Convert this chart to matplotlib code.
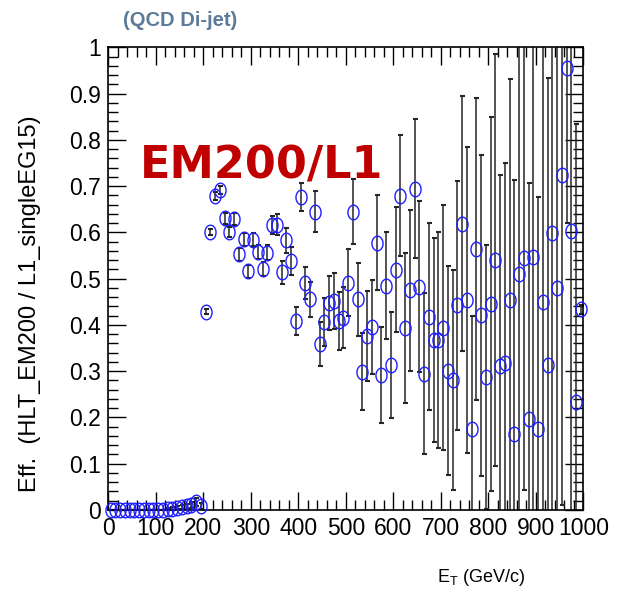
import numpy as np
import matplotlib
matplotlib.use("Agg")
import matplotlib.pyplot as plt
from matplotlib.ticker import MultipleLocator

plt.rcParams['font.family'] = ['Liberation Sans', 'DejaVu Sans']

# ---- data: HLT_EM200 / L1_singleEG15 efficiency per 10 GeV bin ----
et_bins = np.arange(5, 1000, 10)

eff = [
    0.0, 0.0, 0.0, 0.0, 0.0, 0.0, 0.0, 0.0, 0.0, 0.0,
    0.0, 0.0, 0.002, 0.003, 0.005, 0.006, 0.008, 0.011, 0.017, 0.009,
    0.429, 0.601, 0.679, 0.692, 0.630, 0.600, 0.629, 0.553, 0.585, 0.516,
    0.584, 0.558, 0.521, 0.556, 0.616, 0.617, 0.514, 0.583, 0.538, 0.408,
    0.676, 0.491, 0.455, 0.645, 0.359, 0.407, 0.447, 0.452, 0.408, 0.416,
    0.491, 0.645, 0.455, 0.299, 0.376, 0.396, 0.578, 0.292, 0.485, 0.313,
    0.519, 0.679, 0.393, 0.475, 0.694, 0.483, 0.295, 0.418, 0.367, 0.367,
    0.394, 0.301, 0.281, 0.442, 0.619, 0.454, 0.174, 0.564, 0.421, 0.288,
    0.445, 0.540, 0.311, 0.318, 0.454, 0.164, 0.510, 0.544, 0.197, 0.547,
    0.174, 0.449, 0.313, 0.598, 0.479, 0.724, 0.955, 0.604, 0.234, 0.434,
]

eff_err = [
    0.0, 0.0, 0.0, 0.0, 0.0, 0.0, 0.0, 0.0, 0.0, 0.0,
    0.0, 0.0, 0.002, 0.003, 0.003, 0.004, 0.005, 0.006, 0.008, 0.006,
    0.005, 0.007, 0.009, 0.009, 0.011, 0.011, 0.012, 0.014, 0.014, 0.014,
    0.014, 0.015, 0.016, 0.016, 0.019, 0.022, 0.025, 0.027, 0.030, 0.030,
    0.030, 0.034, 0.038, 0.044, 0.047, 0.052, 0.058, 0.061, 0.063, 0.066,
    0.072, 0.071, 0.079, 0.083, 0.098, 0.102, 0.102, 0.104, 0.116, 0.114,
    0.135, 0.131, 0.162, 0.174, 0.150, 0.185, 0.175, 0.202, 0.220, 0.234,
    0.265, 0.226, 0.238, 0.269, 0.276, 0.330, 0.245, 0.327, 0.347, 0.285,
    0.405, 0.445, 0.413, 0.433, 0.477, 0.550, 0.600, 0.500, 0.509, 0.600,
    0.502, 0.600, 0.620, 0.650, 0.600, 0.714, 0.334, 0.700, 0.600, 0.010,
]

y_ticklabels = ['0', '0.1', '0.2', '0.3', '0.4', '0.5', '0.6', '0.7', '0.8', '0.9', '1']

# ---- figure ----
W, H = 618, 602
fig = plt.figure(figsize=(W / 100, H / 100), dpi=100)
fig.patch.set_facecolor('white')

x0, x1, y0, y1 = 108.3, 583.3, 47.3, 510.0
ax = fig.add_axes([x0 / W, 1 - y1 / H, (x1 - x0) / W, (y1 - y0) / H])

# error bars (clipped to the frame like ROOT does)
ax.errorbar(et_bins, eff, yerr=eff_err, fmt='none', ecolor='#262626',
            elinewidth=1.1, capsize=1.8, capthick=1.5, zorder=2)

# open elliptic markers
t = np.linspace(0, 2 * np.pi, 48)
ell = np.column_stack([0.76 * np.cos(t), np.sin(t)])
ax.plot(et_bins, eff, linestyle='none', marker=ell, markersize=10.5,
        markerfacecolor='none', markeredgecolor='#1f1fff',
        markeredgewidth=1.0, clip_on=False, zorder=3)

ax.set_xlim(0, 1000)
ax.set_ylim(0, 1)

ax.xaxis.set_major_locator(MultipleLocator(100))
ax.xaxis.set_minor_locator(MultipleLocator(20))
ax.yaxis.set_minor_locator(MultipleLocator(0.02))
ax.set_yticks(np.arange(0, 1.01, 0.1))
ax.set_yticklabels(y_ticklabels)

ax.tick_params(which='both', direction='in', top=True, right=True,
               colors='black', width=1.0)
ax.tick_params(which='major', length=13, labelsize=16.5, pad=5)
ax.tick_params(which='minor', length=7)
for sp in ax.spines.values():
    sp.set_linewidth(1.2)
    sp.set_color('black')

# titles and labels
fig.text(123 / W, 1 - 20 / H, '(QCD Di-jet)', fontsize=14.5,
         fontweight='bold', color='#5b7b98', ha='left', va='center')

fig.text(140 / W, 1 - 178 / H, 'EM200/L1', fontsize=32,
         fontweight='bold', color='#c00000', ha='left', va='baseline',
         family='DejaVu Sans')

fig.text(30 / W, 1 - 304 / H, 'Eff.  (HLT_EM200 / L1_singleEG15)',
         fontsize=17, rotation=90, ha='center', va='center')

fig.text(481 / W, 1 - 578 / H, r'E$_\mathregular{T}$ (GeV/c)',
         fontsize=13, ha='center', va='center')

fig.savefig('out.png', dpi=100)
